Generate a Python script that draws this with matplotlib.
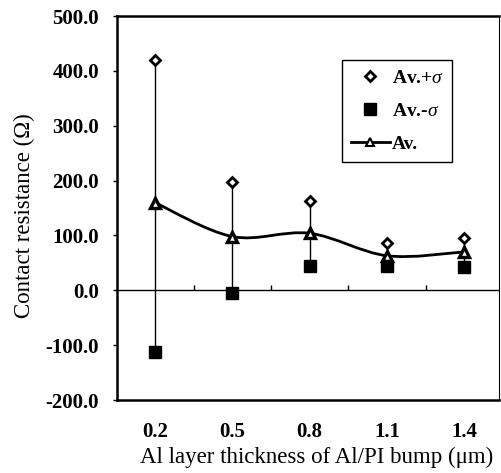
import matplotlib
matplotlib.use("Agg")
import matplotlib.pyplot as plt
from matplotlib.path import Path
from matplotlib.patches import PathPatch
from matplotlib.lines import Line2D
import numpy as np

plt.rcParams['font.family'] = ['Liberation Serif', 'DejaVu Serif']
plt.rcParams['mathtext.fontset'] = 'custom'
plt.rcParams['mathtext.it'] = 'Liberation Serif:italic'

thickness = ['0.2', '0.5', '0.8', '1.1', '1.4']
av_plus = [420, 197, 163, 86, 96]
av_minus = [-112, -5, 44, 44, 43]
av = [160, 98, 104, 63, 70]

fig = plt.figure(figsize=(5.01, 4.73), dpi=100)
ax = fig.add_axes([0.2335, 0.1543, 0.7625, 0.8118])

x = np.arange(len(thickness))

# vertical range lines
ax.vlines(x, av_minus, av_plus, color='black', lw=1.0, zorder=2)

# smoothed average line (bezier, excel style)
pts = np.column_stack([x, av]).astype(float)
verts = [pts[0]]
codes = [Path.MOVETO]
n = len(pts)
for i in range(n - 1):
    p0 = pts[i - 1] if i > 0 else pts[i]
    p1 = pts[i]
    p2 = pts[i + 1]
    p3 = pts[i + 2] if i + 2 < n else pts[i + 1]
    verts += [p1 + (p2 - p0) / 6, p2 - (p3 - p1) / 6, p2]
    codes += [Path.CURVE4] * 3
ax.add_patch(PathPatch(Path(verts, codes), fill=False, lw=2.0, color='black', zorder=3))

ax.plot(x, av, ls='none', marker='^', ms=7, mfc='white', mec='black', mew=2.4, zorder=4)
ax.plot(x, av_plus, ls='none', marker='D', ms=5, mfc='white', mec='black', mew=2.0, zorder=4)
ax.plot(x, av_minus, ls='none', marker='s', ms=9, color='black', zorder=4)

# zero line with boundary ticks
ax.axhline(0, color='black', lw=1.0, zorder=1)
ax.vlines(x[:-1] + 0.5, 0, 10, color='black', lw=1.0)

ax.set_xlim(-0.49, 4.45)
ax.set_ylim(-200, 500)
ax.set_yticks(np.arange(-200, 501, 100))
ax.set_yticklabels(['%.1f' % v for v in np.arange(-200, 501, 100)], fontweight='bold', fontsize=15)
ax.set_xticks(x)
ax.set_xticklabels(thickness, fontweight='bold', fontsize=15)
ax.tick_params(axis='x', length=0, pad=16)
ax.tick_params(axis='y', direction='out', length=3, width=1, pad=10)

for s in ['left', 'top', 'bottom']:
    ax.spines[s].set_linewidth(1.8)
ax.spines['right'].set_linewidth(0.8)

ax.set_xlabel('Al layer thickness of Al/PI bump (\u03bcm)', fontsize=16.5)
ax.set_ylabel('Contact resistance (\u03a9)', fontsize=16.5)
ax.xaxis.set_label_coords(0.522, -0.123)
ax.yaxis.set_label_coords(-0.215, 0.479)

handles = [
    Line2D([], [], ls='none', marker='D', ms=5, mfc='white', mec='black', mew=2.0),
    Line2D([], [], ls='none', marker='s', ms=8, color='black'),
    Line2D([], [], ls='-', lw=2.0, color='black', marker='^', ms=6, mfc='white', mec='black', mew=1.5),
]
leg = ax.legend(handles, [r'Av.+$\sigma$', r'Av.-$\sigma$', 'Av.'],
                loc='upper right', bbox_to_anchor=(0.878, 0.885),
                prop={'weight': 'bold', 'size': 14}, fancybox=False,
                edgecolor='black', framealpha=1, handlelength=2.0,
                handletextpad=0.1, labelspacing=0.8, borderpad=0.45,
                borderaxespad=0)
leg.get_frame().set_linewidth(1.0)

fig.savefig('out.png', dpi=100)
